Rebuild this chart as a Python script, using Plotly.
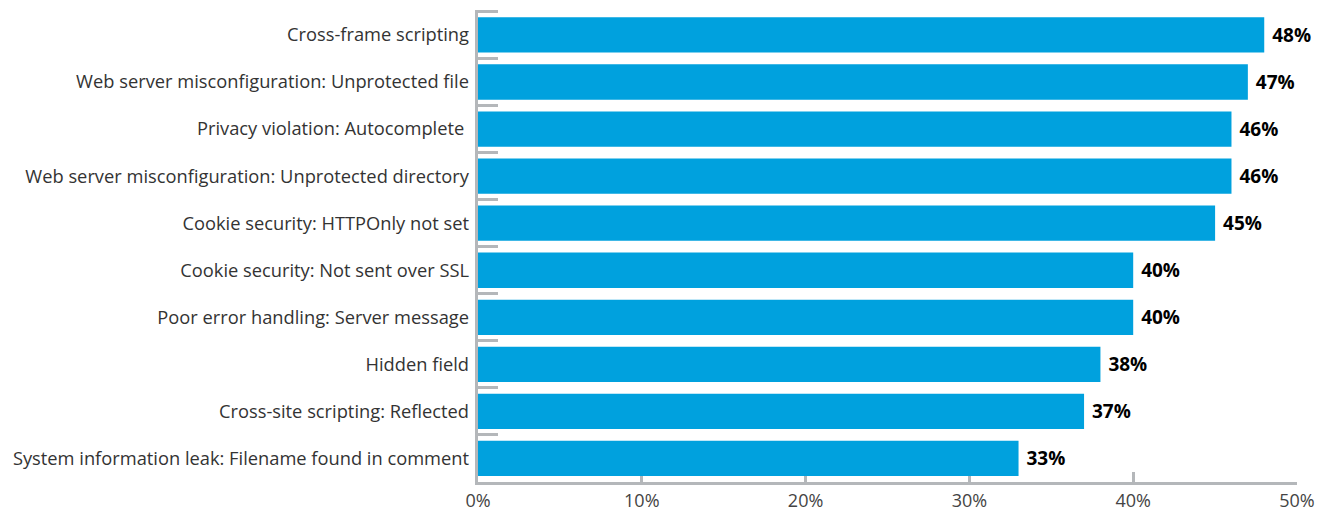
import plotly.graph_objects as go

categories = [
    "Cross-frame scripting",
    "Web server misconfiguration: Unprotected file",
    "Privacy violation: Autocomplete\u00a0",
    "Web server misconfiguration: Unprotected directory",
    "Cookie security: HTTPOnly not set",
    "Cookie security: Not sent over SSL",
    "Poor error handling: Server message",
    "Hidden field",
    "Cross-site scripting: Reflected",
    "System information leak: Filename found in comment",
]
values = [48, 47, 46, 46, 45, 40, 40, 38, 37, 33]
x_ticks = [0, 10, 20, 30, 40, 50]
x_tick_labels = ["0%", "10%", "20%", "30%", "40%", "50%"]

BAR = "#00A1DE"
GRID = "#B4B7BA"
FONT = "Open Sans"

n = len(categories)
# separator positions between category bands (top edge of every band)
boundaries = [i - 0.5 for i in range(n)]
# a hair of headroom so the top separator tick is kept
y_range = [n - 0.5, -0.53]

fig = go.Figure()
fig.add_trace(
    go.Bar(
        x=values,
        y=categories,
        orientation="h",
        marker=dict(color=BAR, line=dict(width=0)),
        text=[f" <b>{v}%</b>" for v in values],
        textposition="outside",
        textfont=dict(family=FONT, size=19, color="#000000"),
        constraintext="none",
        cliponaxis=False,
        hoverinfo="skip",
    )
)
# invisible helper trace so the separator-tick axis is rendered
fig.add_trace(
    go.Scatter(
        x=[0], y=[0], yaxis="y2", mode="markers",
        marker=dict(opacity=0), hoverinfo="skip", showlegend=False,
    )
)

fig.update_layout(
    width=1331,
    height=513,
    margin=dict(l=478, r=34, t=10, b=31, autoexpand=False),
    paper_bgcolor="white",
    plot_bgcolor="white",
    bargap=0.25,
    showlegend=False,
    font=dict(family=FONT, size=18, color="#333333"),
    yaxis=dict(
        range=y_range,
        showgrid=False,
        zeroline=False,
        showline=False,
        ticks="",
        automargin=False,
        ticklabelstandoff=8,
        tickfont=dict(family=FONT, size=18.3, color="#333333"),
    ),
    yaxis2=dict(
        overlaying="y",
        side="left",
        range=y_range,
        tickvals=boundaries,
        showticklabels=False,
        showgrid=False,
        zeroline=False,
        showline=True,
        linecolor=GRID,
        linewidth=3,
        ticks="inside",
        ticklen=20,
        tickwidth=3,
        tickcolor=GRID,
        automargin=False,
        layer="below traces",
    ),
    xaxis=dict(
        range=[0, 50],
        tickvals=x_ticks,
        ticktext=x_tick_labels,
        showgrid=False,
        zeroline=False,
        showline=True,
        linecolor=GRID,
        linewidth=3,
        ticks="inside",
        ticklen=10,
        tickwidth=3,
        tickcolor=GRID,
        automargin=False,
        ticklabelstandoff=0,
        layer="below traces",
        tickfont=dict(family=FONT, size=18, color="#444444"),
    ),
)

fig.write_html("out.html")
